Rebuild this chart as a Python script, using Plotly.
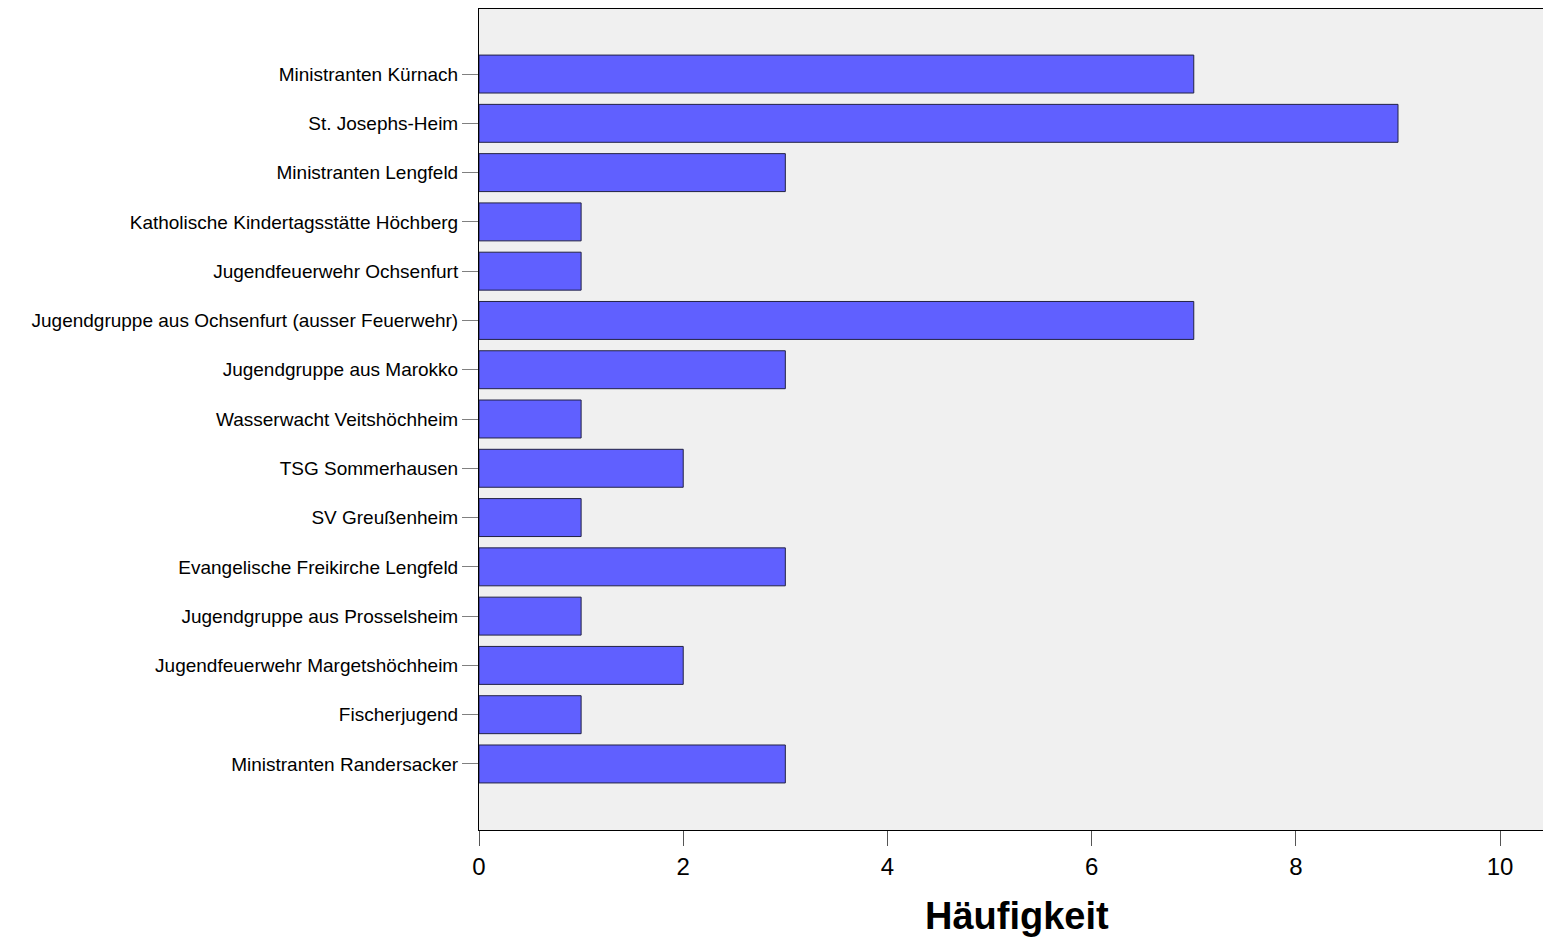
import plotly.graph_objects as go

categories = [
    "Ministranten Kürnach",
    "St. Josephs-Heim",
    "Ministranten Lengfeld",
    "Katholische Kindertagsstätte Höchberg",
    "Jugendfeuerwehr Ochsenfurt",
    "Jugendgruppe aus Ochsenfurt (ausser Feuerwehr)",
    "Jugendgruppe aus Marokko",
    "Wasserwacht Veitshöchheim",
    "TSG Sommerhausen",
    "SV Greußenheim",
    "Evangelische Freikirche Lengfeld",
    "Jugendgruppe aus Prosselsheim",
    "Jugendfeuerwehr Margetshöchheim",
    "Fischerjugend",
    "Ministranten Randersacker",
]
values = [7, 9, 3, 1, 1, 7, 3, 1, 2, 1, 3, 1, 2, 1, 3]
x_ticks = [0, 2, 4, 6, 8, 10]

fig = go.Figure(
    go.Bar(
        x=values,
        y=categories,
        orientation="h",
        marker=dict(color="#6060ff", line=dict(color="#222244", width=1)),
    )
)

n = len(categories)
fig.update_layout(
    width=1543,
    height=939,
    margin=dict(l=479, r=0, t=9, b=109),
    paper_bgcolor="white",
    plot_bgcolor="#f0f0f0",
    bargap=0.23,
    showlegend=False,
    font=dict(family="Liberation Sans, Arial, sans-serif", color="black"),
    annotations=[
        dict(
            text="<b>Häufigkeit</b>",
            xref="paper",
            yref="paper",
            x=0.5056,
            y=-0.105,
            xanchor="center",
            yanchor="middle",
            showarrow=False,
            font=dict(size=38, color="black"),
        )
    ],
)
fig.update_xaxes(
    range=[0, 10.42],
    tickvals=x_ticks,
    ticks="outside",
    ticklen=15,
    tickcolor="#555555",
    tickfont=dict(size=24),
    showgrid=False,
    zeroline=False,
    showline=True,
    linecolor="black",
    linewidth=1,
    mirror=True,
)
fig.update_yaxes(
    type="category",
    range=[n - 1 + 1.34, -1.32],
    ticks="outside",
    ticklen=16,
    tickcolor="#808080",
    tickfont=dict(size=19),
    showgrid=False,
    zeroline=False,
    showline=True,
    linecolor="black",
    linewidth=1,
)

fig.write_html(
    "out.html",
    config={"displayModeBar": False},
    post_script="document.body.style.margin='0';document.body.style.overflow='hidden';",
)
